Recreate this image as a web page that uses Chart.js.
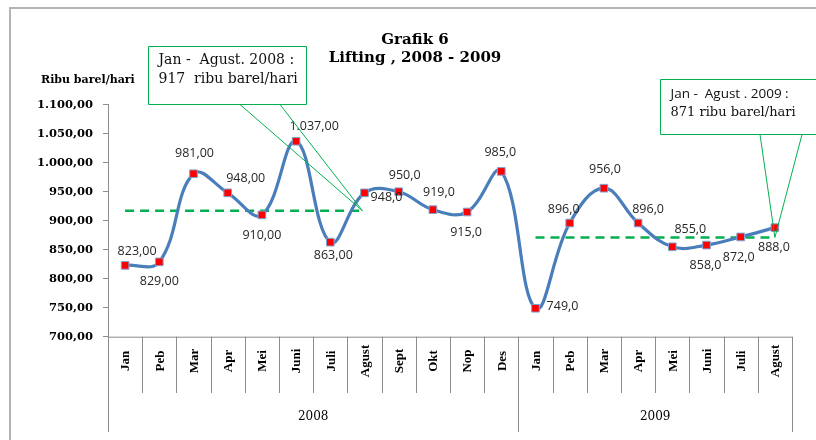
<!DOCTYPE html>
<html><head><meta charset="utf-8">
<script src="https://cdn.jsdelivr.net/npm/chart.js@4"></script>
<style>html,body{margin:0;padding:0;background:#fff;}#wrap{width:816px;height:440px;position:relative;}</style>
</head><body><div id="wrap"><canvas id="c" width="816" height="440"></canvas></div>
<script>
// ---- data ----
const months = ['Jan','Peb','Mar','Apr','Mei','Juni','Juli','Agust','Sept','Okt','Nop','Des','Jan','Peb','Mar','Apr','Mei','Juni','Juli','Agust'];
const years = ['2008','2009'];
const monthsPerYear = [12, 8];
const lifting = [823,829,981,948,910,1037,863,948,950,919,915,985,749,896,956,896,855,858,872,888];
const labelDecimals = [2,2,2,2,2,2,2,1,1,1,1,1,1,1,1,1,1,1,1,1];
const avg2008 = 917;
const avg2009 = 871;
const avgText2008 = ['Jan -  Agust. 2008 :', '917  ribu barel/hari'];
const avgText2009 = ['Jan -  Agust . 2009 :', '871 ribu barel/hari'];
const yMin = 700, yMax = 1100, yStep = 50;

// label placement (style): offsets of value labels from their points
const labelOffsets = [[12,-14],[0,20],[1,-20],[18,-14],[0,21],[18,-15],[3,13],[22,5],[6,-16],[6,-17],[-1,20],[-1,-19],[27,-2],[-6,-14],[1,-19],[10,-14],[18,-17],[-1,20],[-2,20],[-1,20]];

function fmt(v, d) {
  const p = v.toFixed(d).split('.');
  p[0] = p[0].replace(/\B(?=(\d{3})+(?!\d))/g, '.');
  return d ? p[0] + ',' + p[1] : p[0];
}

const avg08Data = lifting.map((v, i) => i < 8 ? avg2008 : null);
const avg09Data = lifting.map((v, i) => i >= monthsPerYear[0] ? avg2009 : null);

const GREEN = '#00B050';
const BLUE = '#4A7EBB';
const AXIS = '#8c8c8c';

const decor = {
  id: 'decor',
  afterDatasetsDraw(chart) {
    const ctx = chart.ctx;
    const xs = chart.scales.x, ys = chart.scales.y;
    const meta = chart.getDatasetMeta(0);
    ctx.save();
    // value labels
    ctx.font = '12.5px "Open Sans"';
    ctx.fillStyle = '#262626';
    ctx.textAlign = 'center';
    ctx.textBaseline = 'middle';
    meta.data.forEach((pt, i) => {
      const o = labelOffsets[i];
      ctx.fillText(fmt(lifting[i], labelDecimals[i]), pt.x + o[0], pt.y + o[1]);
    });

    // callouts
    function callout(box, lines, fonts, lineY) {
      ctx.beginPath();
      ctx.rect(box[0], box[1], box[2] - box[0], box[3] - box[1]);
      ctx.fillStyle = '#fff';
      ctx.fill();
      ctx.strokeStyle = GREEN;
      ctx.lineWidth = 1;
      ctx.stroke();
      ctx.fillStyle = '#111';
      ctx.textAlign = 'left';
      ctx.textBaseline = 'middle';
      lines.forEach((t, k) => {
        ctx.font = fonts[k];
        ctx.fillText(t, box[0] + 10, box[1] + lineY[k]);
      });
    }
    const tip1 = [xs.getPixelForValue(7) - 2, ys.getPixelForValue(avg2008)];
    const tip2 = [xs.getPixelForValue(19), ys.getPixelForValue(avg2009)];
    ctx.strokeStyle = GREEN; ctx.lineWidth = 1;
    ctx.beginPath();
    ctx.moveTo(240, 104.5); ctx.lineTo(tip1[0], tip1[1]); ctx.lineTo(280, 104.5);
    ctx.stroke();
    callout([148.5, 46.5, 306.5, 104.5], avgText2008,
      ['14px "DejaVu Serif"', '14px "DejaVu Serif"'], [14, 33]);
    ctx.strokeStyle = GREEN; ctx.lineWidth = 1;
    ctx.beginPath();
    ctx.moveTo(760, 134.5); ctx.lineTo(tip2[0], tip2[1]); ctx.lineTo(802, 134.5);
    ctx.stroke();
    callout([660.5, 79.5, 830, 134.5], avgText2009,
      ['13.5px "Open Sans"', '13px "DejaVu Serif"'], [15, 33]);
    ctx.restore();
  },
  afterDraw(chart) {
    const ctx = chart.ctx;
    const xs = chart.scales.x;
    const area = chart.chartArea;
    ctx.save();
    // outer frame
    ctx.strokeStyle = '#b4b4b4';
    ctx.lineWidth = 2;
    ctx.beginPath();
    ctx.moveTo(10, 440); ctx.lineTo(10, 8); ctx.lineTo(816, 8);
    ctx.stroke();

    // title
    ctx.fillStyle = '#000';
    ctx.textAlign = 'center';
    ctx.textBaseline = 'middle';
    ctx.font = 'bold 15px "DejaVu Serif"';
    ctx.fillText('Grafik 6', 415, 40);
    ctx.fillText('Lifting , 2008 - 2009', 415, 58);
    // y title
    ctx.font = 'bold 11px "DejaVu Serif"';
    ctx.textAlign = 'left';
    ctx.fillText('Ribu barel/hari', 41, 80);

    // x axis: category dividers, month labels, year groups
    const half = (xs.getPixelForValue(1) - xs.getPixelForValue(0)) / 2;
    const base = area.bottom;
    ctx.strokeStyle = AXIS;
    ctx.lineWidth = 1;
    ctx.beginPath();
    ctx.moveTo(area.left, base + 0.5); ctx.lineTo(area.right, base + 0.5);
    ctx.stroke();
    const groupEdges = [0];
    let acc = 0;
    monthsPerYear.forEach(n => { acc += n; groupEdges.push(acc); });
    for (let i = 0; i <= months.length; i++) {
      const x = Math.round(xs.getPixelForValue(Math.min(i, months.length - 1)) + (i === months.length ? half : -half)) + 0.5;
      const long = groupEdges.includes(i);
      ctx.beginPath();
      ctx.moveTo(x, base);
      ctx.lineTo(x, long ? 432 : 393);
      ctx.stroke();
    }
    ctx.fillStyle = '#000';
    ctx.font = 'bold 13px "Liberation Serif"';
    ctx.textAlign = 'center';
    ctx.textBaseline = 'middle';
    months.forEach((m, i) => {
      const x = xs.getPixelForValue(i);
      ctx.save();
      ctx.translate(x + 1, 361);
      ctx.rotate(-Math.PI / 2);
      ctx.fillText(m, 0, 0);
      ctx.restore();
    });
    ctx.font = '12px "DejaVu Serif"';
    years.forEach((y, k) => {
      const x0 = xs.getPixelForValue(groupEdges[k]) - half;
      const x1 = xs.getPixelForValue(groupEdges[k + 1] - 1) + half;
      ctx.fillText(y, (x0 + x1) / 2, 417);
    });
    ctx.restore();
  }
};

new Chart(document.getElementById('c'), {
  type: 'line',
  data: {
    labels: months,
    datasets: [
      {
        data: lifting,
        borderColor: BLUE,
        borderWidth: 3.2,
        tension: 0.4,
        pointStyle: 'rect',
        pointRadius: 5.4,
        pointBackgroundColor: '#FF0000',
        pointBorderColor: '#7EA3D6',
        pointBorderWidth: 1,
        fill: false
      },
      {
        data: avg08Data,
        borderColor: GREEN,
        borderWidth: 2.5,
        borderDash: [9, 6],
        pointRadius: 0,
        tension: 0,
        fill: false,
        spanGaps: false
      },
      {
        data: avg09Data,
        borderColor: GREEN,
        borderWidth: 2.5,
        borderDash: [9, 6],
        pointRadius: 0,
        tension: 0,
        fill: false,
        spanGaps: false
      }
    ]
  },
  options: {
    responsive: false,
    animation: false,
    devicePixelRatio: 1,
    layout: { padding: { top: 104.7, right: 24, bottom: 0, left: 0 } },
    plugins: { legend: { display: false }, tooltip: { enabled: false }, title: { display: false } },
    scales: {
      x: {
        type: 'category',
        offset: true,
        grid: { display: false },
        border: { display: false },
        ticks: { display: false },
        afterFit(s) { s.height = 103.3; }
      },
      y: {
        min: yMin,
        max: yMax,
        ticks: {
          stepSize: yStep,
          color: '#000',
          font: { family: 'DejaVu Serif', size: 11.5, weight: 'bold' },
          padding: 10,
          callback: v => fmt(v, 2)
        },
        grid: { drawOnChartArea: false, drawTicks: true, tickLength: 5, color: AXIS },
        border: { display: true, color: AXIS, width: 1 },
        afterFit(s) { s.width = 108; }
      }
    }
  },
  plugins: [decor]
});
</script>
</body></html>
